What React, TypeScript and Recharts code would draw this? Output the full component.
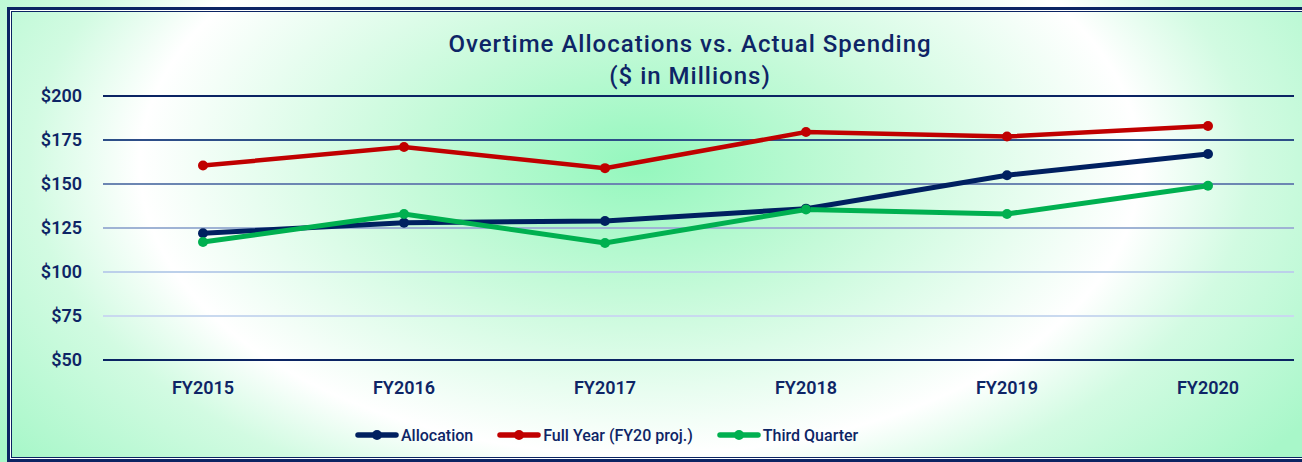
import React from 'react';
import { LineChart, Line, XAxis, YAxis, ReferenceLine, Legend } from 'recharts';

const categories = ['FY2015', 'FY2016', 'FY2017', 'FY2018', 'FY2019', 'FY2020'];
const allocation = [122, 128, 129, 136, 155, 167];
const fullYear = [160.5, 171, 159, 179.5, 177, 183];
const thirdQuarter = [117, 133, 116.5, 135.5, 133, 149];
const yTicks = [50, 75, 100, 125, 150, 175, 200];
const seriesNames = ['Allocation', 'Full Year (FY20 proj.)', 'Third Quarter'];
const titleLines = ['Overtime Allocations vs. Actual Spending', '($ in Millions)'];

const gridColors = ['#0b2463', '#c9d9ef', '#bcd0ea', '#9fb3d4', '#6c86b2', '#2d4e88', '#0b2463'];
const seriesColors = ['#002060', '#C00000', '#00B050'];
const TEXT = '#0e2566';
const FONT = 'Roboto, "DejaVu Sans", sans-serif';

const data = categories.map((name, i) => ({
  name,
  allocation: allocation[i],
  fullYear: fullYear[i],
  thirdQuarter: thirdQuarter[i],
}));

const keys = ['allocation', 'fullYear', 'thirdQuarter'];

const LegendContent = (props: any) => {
  const payload = props.payload || [];
  return (
    <div style={{ display: 'flex', justifyContent: 'flex-start', alignItems: 'center', height: 24, paddingLeft: 355, fontFamily: FONT }}>
      {payload.map((p: any, i: number) => (
        <div key={i} style={{ display: 'flex', alignItems: 'center', marginLeft: i === 0 ? 0 : 24 }}>
          <svg width={44} height={14} style={{ marginRight: 2, display: 'block' }}>
            <line x1={3} y1={7} x2={41} y2={7} stroke={p.color} strokeWidth={5.5} strokeLinecap="round" />
            <circle cx={22} cy={7} r={5} fill={p.color} />
          </svg>
          <span style={{ color: TEXT, fontSize: 16, fontWeight: 500 }}>{p.value}</span>
        </div>
      ))}
    </div>
  );
};

export default function App() {
  return (
    <div
      style={{
        position: 'absolute',
        left: 0,
        top: 0,
        width: 1302,
        height: 462,
        overflow: 'hidden',
        background:
          'radial-gradient(ellipse 500px 290px at 640px 165px, #94f7bd 0%, #c5fad9 45%, #ffffff 100%, #d2fbe2 122%, #a8f7c9 160%)',
      }}
    >
      <div
        style={{
          position: 'absolute',
          left: 7,
          top: 7,
          width: 1400,
          height: 455,
          boxSizing: 'border-box',
          border: '3px solid #0b2463',
        }}
      >
        <div style={{ width: '100%', height: '100%', boxSizing: 'border-box', border: '1px solid #ffffff' }}>
          <div style={{ width: '100%', height: '100%', boxSizing: 'border-box', border: '1px solid #0b2463' }} />
        </div>
      </div>
      <div
        style={{
          position: 'absolute',
          left: 390,
          width: 600,
          top: 28,
          textAlign: 'center',
          fontFamily: FONT,
          fontSize: 24,
          fontWeight: 500,
          letterSpacing: 1,
          color: TEXT,
          lineHeight: '32px',
        }}
      >
        {titleLines.map((t, i) => (
          <div key={i}>{t}</div>
        ))}
      </div>
      <div style={{ position: 'absolute', left: 0, top: 0 }}>
        <LineChart width={1302} height={462} data={data} margin={{ top: 96, right: 8, left: 0, bottom: 38 }}>
          <XAxis
            dataKey="name"
            padding={{ left: 100, right: 86 }}
            axisLine={false}
            tickLine={false}
            interval={0}
            tickMargin={15}
            height={40}
            tick={{ fill: TEXT, fontSize: 18, fontWeight: 600, fontFamily: FONT }}
          />
          <YAxis
            domain={[50, 200]}
            ticks={yTicks}
            axisLine={false}
            tickLine={false}
            width={103}
            tickMargin={15}
            tickFormatter={(v: number) => `$${v}`}
            tick={{ fill: TEXT, fontSize: 18, fontWeight: 600, fontFamily: FONT }}
          />
          {yTicks.map((t, i) => (
            <ReferenceLine key={t} y={t} stroke={gridColors[i]} strokeWidth={2} ifOverflow="extendDomain" />
          ))}
          {keys.map((k, i) => (
            <Line
              key={k}
              type="linear"
              dataKey={k}
              name={seriesNames[i]}
              stroke={seriesColors[i]}
              strokeWidth={i === 1 ? 4.5 : 5}
              dot={{ r: 5, fill: seriesColors[i], stroke: seriesColors[i], strokeWidth: 0 }}
              activeDot={false}
              isAnimationActive={false}
            />
          ))}
          <Legend
            verticalAlign="bottom"
            content={LegendContent}
            wrapperStyle={{ top: 423, bottom: 'auto', left: 0, width: 1302 }}
          />
        </LineChart>
      </div>
    </div>
  );
}
